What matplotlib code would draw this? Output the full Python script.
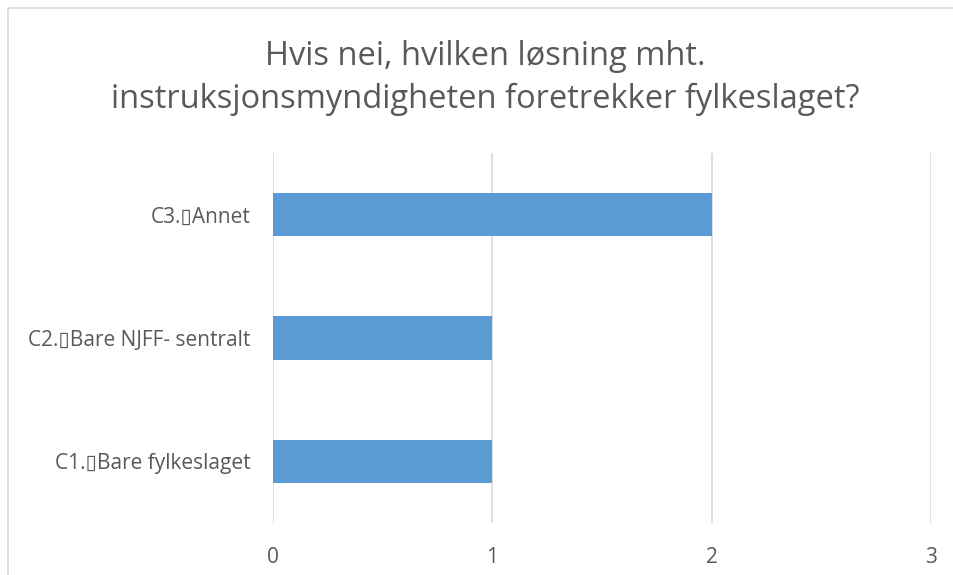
import matplotlib.pyplot as plt
from matplotlib.patches import Rectangle

categories = ['C1.\u25afBare fylkeslaget', 'C2.\u25afBare NJFF- sentralt', 'C3.\u25afAnnet']
values = [1, 1, 2]
title = 'Hvis nei, hvilken løsning mht.\ninstruksjonsmyndigheten foretrekker fylkeslaget?'

plt.rcParams['font.family'] = ['Open Sans', 'DejaVu Sans']

fig = plt.figure(figsize=(9.54, 5.75), dpi=100)
ax = fig.add_axes([0.2862, 0.0904, 0.6897, 0.6435])

# chart frame
fig.patches.append(Rectangle((8 / 954, -0.1), 1.2, 1 - 8 / 575 + 0.1, transform=fig.transFigure,
                             fill=False, edgecolor='#D9D9D9', linewidth=1.2))

ax.barh(range(len(categories)), values, height=0.35, color='#5B9BD5', zorder=3)
ax.set_xlim(0, 3)
ax.set_ylim(-0.5, 2.5)
ax.set_xticks([0, 1, 2, 3])
ax.set_yticks(range(len(categories)))
ax.set_yticklabels(categories)
ax.grid(axis='x', color='#D9D9D9', linewidth=1.2, zorder=0)
for s in ax.spines.values():
    s.set_visible(False)
ax.tick_params(length=0, labelsize=15, colors='#595959')
ax.tick_params(axis='y', pad=16)
ax.tick_params(axis='x', pad=17)

fig.text(0.509, 0.865, title, ha='center', va='center', fontsize=23.5, color='#595959',
         linespacing=1.38)

fig.savefig('out.png', dpi=100)
